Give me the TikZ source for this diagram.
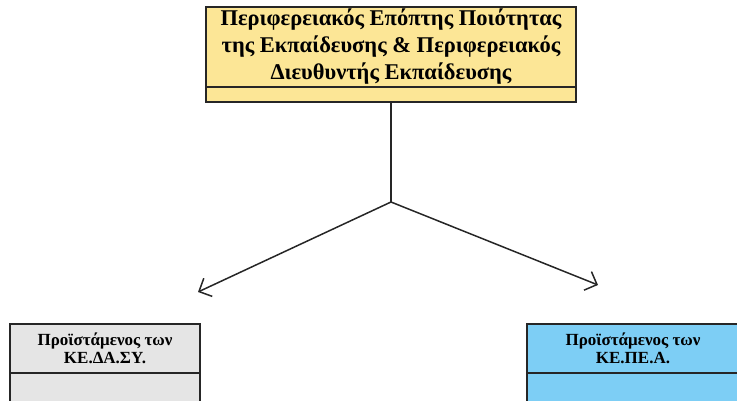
\documentclass[tikz,border=0pt]{standalone}
\usepackage{fontspec}
\setmainfont{Liberation Serif}
\definecolor{paleyellow}{RGB}{252,230,150}
\definecolor{palegray}{RGB}{229,229,229}
\definecolor{skyblue}{RGB}{125,206,245}
\usetikzlibrary{arrows.meta,positioning}

\begin{document}
\begin{tikzpicture}[x=1pt,y=-1pt,node distance=0pt,
    cls/.style={draw=black!85,line width=1.4pt,inner sep=0pt,outer sep=0pt,align=center},
    big/.style={font=\bfseries\fontsize{22.5}{27}\selectfont},
    small/.style={font=\bfseries\fontsize{17}{18}\selectfont},
    arr/.style={-{Straight Barb[length=10pt,width=20pt]},line width=1.5pt,black!85}]
    \useasboundingbox (0,0) rectangle (737,401);
    \clip (0,0) rectangle (737,401);
    % top box
    \node[cls,big,fill=paleyellow,minimum width=370pt,minimum height=80pt,anchor=north] (pepe) at (391,7) {Περιφερειακός Επόπτης Ποιότητας\\της Εκπαίδευσης \& Περιφερειακός\\Διευθυντής Εκπαίδευσης};
    \node[cls,fill=paleyellow,minimum width=370pt,minimum height=15pt,below=of pepe] (pepeops) {};
    % bottom boxes
    \node[cls,small,fill=palegray,minimum width=190pt,minimum height=49pt,anchor=north] (kedasy) at (105,324) {Προϊστάμενος των\\ΚΕ.ΔΑ.ΣΥ.};
    \node[cls,fill=palegray,minimum width=190pt,minimum height=50pt,below=of kedasy] (kedasyops) {};
    \node[cls,small,fill=skyblue,minimum width=212pt,minimum height=49pt,anchor=north] (kepea) at (633,324) {Προϊστάμενος των\\ΚΕ.ΠΕ.Α.};
    \node[cls,fill=skyblue,minimum width=212pt,minimum height=50pt,below=of kepea] (kepeaops) {};
    % connectors
    \coordinate (fork) at (391,202);
    \coordinate (tipl) at (198,292);
    \coordinate (tipr) at (598,285);
    \draw[line width=1.5pt,black!85] (pepeops.south) -- (fork);
    \draw[arr] (fork) -- (tipl);
    \draw[arr] (fork) -- (tipr);
\end{tikzpicture}
\end{document}
